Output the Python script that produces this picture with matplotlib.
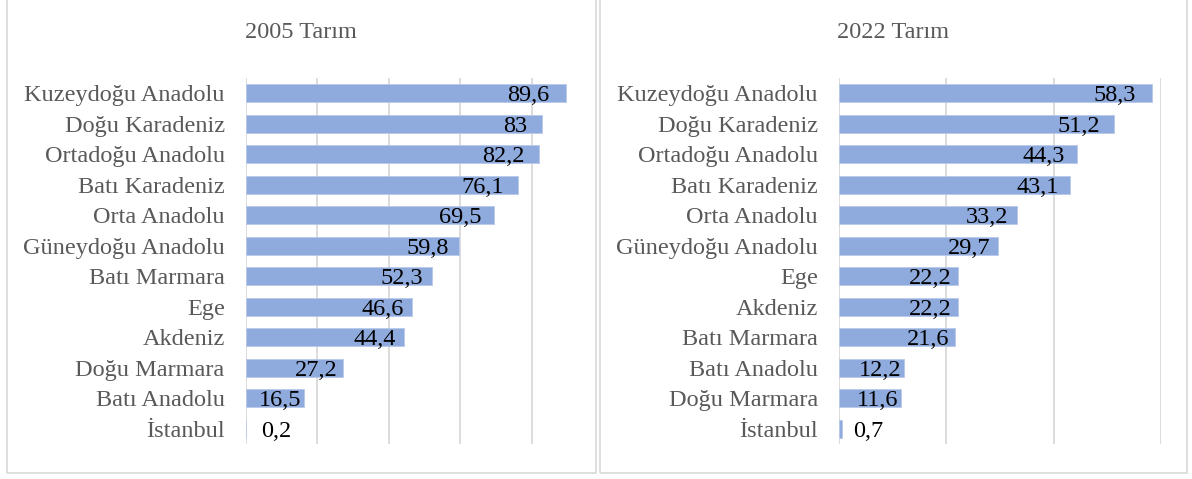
import matplotlib
matplotlib.use("Agg")
import matplotlib.pyplot as plt
from matplotlib.patches import Rectangle

# ---- data ----
titles = ["2005 Tarım", "2022 Tarım"]
cats_2005 = ["Kuzeydoğu Anadolu", "Doğu Karadeniz", "Ortadoğu Anadolu", "Batı Karadeniz",
             "Orta Anadolu", "Güneydoğu Anadolu", "Batı Marmara", "Ege", "Akdeniz",
             "Doğu Marmara", "Batı Anadolu", "İstanbul"]
vals_2005 = [89.6, 83, 82.2, 76.1, 69.5, 59.8, 52.3, 46.6, 44.4, 27.2, 16.5, 0.2]
cats_2022 = ["Kuzeydoğu Anadolu", "Doğu Karadeniz", "Ortadoğu Anadolu", "Batı Karadeniz",
             "Orta Anadolu", "Güneydoğu Anadolu", "Ege", "Akdeniz", "Batı Marmara",
             "Batı Anadolu", "Doğu Marmara", "İstanbul"]
vals_2022 = [58.3, 51.2, 44.3, 43.1, 33.2, 29.7, 22.2, 22.2, 21.6, 12.2, 11.6, 0.7]
ticks_2005 = [0, 20, 40, 60, 80]
ticks_2022 = [0, 20, 40, 60]

W, H = 1192, 479
plt.rcParams['font.family'] = ['Liberation Serif', 'DejaVu Serif']
FAM = ['Liberation Serif', 'DejaVu Serif']
fig = plt.figure(figsize=(W / 100, H / 100), dpi=100)

FS = 17.5
BAR = '#8faadc'
GRID = '#d9d9d9'
LABEL_C = '#595959'
TITLE_C = '#595959'

def fx(px):
    return px / W

def fy(py):
    return 1 - py / H

# panel borders
for (x0, x1) in [(6.5, 596), (600, 1187)]:
    fig.patches.append(Rectangle((fx(x0), fy(473)), fx(x1 - x0), fy(-10) - fy(473),
                                 transform=fig.transFigure, fill=False,
                                 edgecolor=GRID, linewidth=1.2, zorder=0))

panels = [
    (cats_2005, vals_2005, ticks_2005, 245.5, 95.0, 3.575, (6.5 + 596) / 2, 15),
    (cats_2022, vals_2022, ticks_2022, 838.7, 60.0, 5.374, (600 + 1187) / 2, 11),
]

top_px, bot_px = 78, 444
for i, (cats, vals, ticks, x0px, xmax, ppu, tcx, gap) in enumerate(panels):
    width_px = xmax * ppu
    ax = fig.add_axes([fx(x0px), fy(bot_px), fx(width_px), (bot_px - top_px) / H])
    ypos = list(range(len(cats)))
    ax.barh(ypos, vals, height=0.58, color=BAR, edgecolor='#b8c9ea', linewidth=0.6, zorder=2)
    ax.set_xlim(0, xmax)
    ax.set_ylim(len(cats) - 0.5, -0.5)
    ax.set_xticks(ticks)
    ax.grid(axis='x', color=GRID, linewidth=1.3, zorder=0)
    ax.set_axisbelow(True)
    ax.tick_params(axis='x', length=0, labelbottom=False)
    ax.tick_params(axis='y', length=0, pad=15)
    ax.set_yticks(ypos)
    ax.set_yticklabels(cats, fontsize=FS, color=LABEL_C, family=FAM)
    for s in ax.spines.values():
        s.set_visible(False)
    ax.patch.set_alpha(0)
    for y, v in zip(ypos, vals):
        lbl = f"{v:g}".replace('.', ',')
        if v < 5:
            ax.annotate(lbl, (v, y), xytext=(gap * 0.72, -5.8), textcoords='offset points',
                        ha='left', va='baseline', fontsize=FS, color='black', family=FAM)
        else:
            ax.annotate(lbl, (v * 0.95, y), xytext=(0, -5.8), textcoords='offset points',
                        ha='right', va='baseline', fontsize=FS, color='black', family=FAM)
    fig.text(fx(tcx), fy(32), titles[i], ha='center', va='center', fontsize=FS,
             color=TITLE_C, family=FAM)

fig.savefig("out.png", dpi=100)
